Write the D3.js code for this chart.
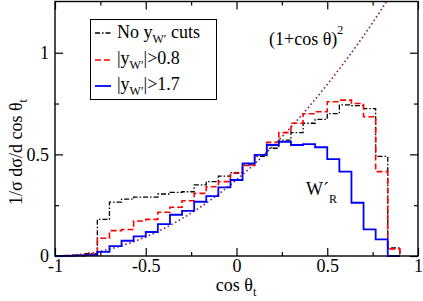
<!DOCTYPE html>
<html>
<head>
<meta charset="utf-8">
<script src="https://cdn.jsdelivr.net/npm/d3@7"></script>
<style>
  body { margin: 0; background: #fff; }
  text, tspan { font-family: 'Liberation Serif', 'Times New Roman', Times, 'DejaVu Serif', serif !important; }
</style>
</head>
<body>
<div id="chart"></div>
<script>
// lower edges of the cos(theta_t) bins (width 1/15)
const binEdges = [-0.9667, -0.9, -0.8333, -0.7667, -0.7, -0.6333, -0.5667, -0.5, -0.4333, -0.3667,
                  -0.3, -0.2333, -0.1667, -0.1, -0.0333, 0.0333, 0.1, 0.1667, 0.2333, 0.3,
                  0.3667, 0.4333, 0.5, 0.5667, 0.6333, 0.7, 0.7667, 0.8333];
const binWidth = 1 / 15;

const noCut  = [0.002, 0.004, 0.012, 0.18, 0.265, 0.28, 0.29, 0.29, 0.305, 0.313,
                0.316, 0.35, 0.366, 0.393, 0.41, 0.448, 0.49, 0.53, 0.57, 0.607,
                0.653, 0.672, 0.70, 0.743, 0.74, 0.725, 0.49, 0.04];
const cut08  = [0.002, 0.003, 0.008, 0.087, 0.125, 0.13, 0.172, 0.18, 0.215, 0.24,
                0.272, 0.308, 0.341, 0.366, 0.407, 0.445, 0.497, 0.559, 0.607, 0.653,
                0.70, 0.71, 0.759, 0.767, 0.75, 0.685, 0.415, 0.035];
const cut17  = [0.001, 0.002, 0.004, 0.02, 0.049, 0.075, 0.097, 0.118, 0.157, 0.203,
                0.222, 0.267, 0.295, 0.338, 0.374, 0.456, 0.497, 0.546, 0.562, 0.546,
                0.55, 0.535, 0.477, 0.415, 0.262, 0.131, 0.082, 0];

// (1+cos theta)^2 reference curve
const curveX = [-1, -0.9, -0.8, -0.7, -0.6, -0.5, -0.4, -0.3, -0.2, -0.1, 0,
                0.1, 0.2, 0.3, 0.4, 0.5, 0.6, 0.7, 0.8, 0.83];
const curveY = [0, 0.004, 0.015, 0.034, 0.06, 0.094, 0.135, 0.184, 0.24, 0.304, 0.375,
                0.454, 0.54, 0.634, 0.735, 0.844, 0.96, 1.083, 1.215, 1.256];

const xMajor = [-1, -0.5, 0, 0.5, 1],
      xMinor = [-0.75, -0.25, 0.25, 0.75],
      yMajor = [0, 0.5, 1],
      yMinor = [0.25, 0.75];

const W = 423, H = 301,
      plot = {left: 55, right: 418, top: 1.5, bottom: 256};

const svg = d3.select('#chart').append('svg')
  .attr('width', W)
  .attr('height', H);

const x = d3.scaleLinear().domain([-1, 1]).range([plot.left, plot.right]);
const y = d3.scaleLinear().domain([0, 1.252]).range([plot.bottom, plot.top]);

svg.append('clipPath').attr('id', 'clip')
  .append('rect')
  .attr('x', plot.left).attr('y', plot.top)
  .attr('width', plot.right - plot.left).attr('height', plot.bottom - plot.top);

// axes, ticks pointing inward on all four sides
function styleAxis(g) {
  g.attr('font-family', 'Liberation Serif').attr('font-size', 18);
  g.select('.domain').remove();
  g.selectAll('.tick line').attr('stroke', '#000').attr('stroke-width', 1.2);
  g.selectAll('.tick text').attr('fill', '#000');
}

const fmt = d => String(d);

svg.append('g')
  .attr('transform', `translate(0,${plot.bottom})`)
  .call(d3.axisBottom(x).tickValues(xMajor).tickSize(-8).tickPadding(3.5).tickFormat(fmt))
  .call(styleAxis);
svg.append('g')
  .attr('transform', `translate(0,${plot.bottom})`)
  .call(d3.axisBottom(x).tickValues(xMinor).tickSize(-4).tickFormat(''))
  .call(styleAxis);
svg.append('g')
  .attr('transform', `translate(0,${plot.top})`)
  .call(d3.axisTop(x).tickValues(xMajor).tickSize(-8).tickFormat(''))
  .call(styleAxis);
svg.append('g')
  .attr('transform', `translate(0,${plot.top})`)
  .call(d3.axisTop(x).tickValues(xMinor).tickSize(-4).tickFormat(''))
  .call(styleAxis);

svg.append('g')
  .attr('transform', `translate(${plot.left},0)`)
  .call(d3.axisLeft(y).tickValues(yMajor).tickSize(-8).tickPadding(6).tickFormat(fmt))
  .call(styleAxis);
svg.append('g')
  .attr('transform', `translate(${plot.left},0)`)
  .call(d3.axisLeft(y).tickValues(yMinor).tickSize(-4).tickFormat(''))
  .call(styleAxis);
svg.append('g')
  .attr('transform', `translate(${plot.right},0)`)
  .call(d3.axisRight(y).tickValues(yMajor).tickSize(-8).tickFormat(''))
  .call(styleAxis);
svg.append('g')
  .attr('transform', `translate(${plot.right},0)`)
  .call(d3.axisRight(y).tickValues(yMinor).tickSize(-4).tickFormat(''))
  .call(styleAxis);

// reference curve
const smooth = d3.line()
  .x((d, i) => x(curveX[i]))
  .y(d => y(d))
  .curve(d3.curveMonotoneX);

svg.append('path')
  .attr('clip-path', 'url(#clip)')
  .attr('d', smooth(curveY))
  .attr('fill', 'none')
  .attr('stroke', '#7d1e6e')
  .attr('stroke-width', 1.6)
  .attr('stroke-dasharray', '1.6,2.6');

// histograms as step lines
function stepPoints(vals) {
  const pts = [[-1, 0]];
  vals.forEach((v, i) => pts.push([binEdges[i], v]));
  const last = binEdges[binEdges.length - 1] + binWidth;
  pts.push([last, vals[vals.length - 1]]);
  pts.push([last, 0]);
  return pts;
}

const step = d3.line()
  .x(d => x(d[0]))
  .y(d => y(d[1]))
  .curve(d3.curveStepAfter);

const series = [
  {vals: noCut, color: '#000', width: 1.3, dash: '5,2,1.5,2'},
  {vals: cut08, color: '#ff0000', width: 1.6, dash: '6,3'},
  {vals: cut17, color: '#0000ff', width: 1.8, dash: null}
];

series.forEach(s => {
  svg.append('path')
    .attr('d', step(stepPoints(s.vals)))
    .attr('fill', 'none')
    .attr('stroke', s.color)
    .attr('stroke-width', s.width)
    .attr('stroke-dasharray', s.dash);
});

// frame
svg.append('rect')
  .attr('x', plot.left).attr('y', plot.top)
  .attr('width', plot.right - plot.left).attr('height', plot.bottom - plot.top)
  .attr('fill', 'none')
  .attr('stroke', '#000')
  .attr('stroke-width', 1.4);

// legend
const legend = svg.append('g');
legend.append('rect')
  .attr('x', 90.5).attr('y', 19.5)
  .attr('width', 126).attr('height', 80)
  .attr('fill', '#fff')
  .attr('stroke', '#000')
  .attr('stroke-width', 1);

const legendRows = [
  {pre: 'No y', post: ' cuts', s: series[0], ly: 33, ty: 38},
  {pre: '|y', post: '|>0.8', s: series[1], ly: 60, ty: 64},
  {pre: '|y', post: '|>1.7', s: series[2], ly: 86, ty: 90}
];

legendRows.forEach(r => {
  legend.append('line')
    .attr('x1', 95).attr('x2', 111)
    .attr('y1', r.ly).attr('y2', r.ly)
    .attr('stroke', r.s.color)
    .attr('stroke-width', r.s.width)
    .attr('stroke-dasharray', r.s.dash);
  const t = legend.append('text')
    .attr('x', 117).attr('y', r.ty)
    .attr('font-size', 18);
  t.append('tspan').text(r.pre);
  t.append('tspan').attr('dy', 5).attr('font-size', 12).text('W\u2032');
  t.append('tspan').attr('dy', -5).text(r.post);
});

// annotations
const ann = svg.append('text')
  .attr('x', 269).attr('y', 45)
  .attr('font-size', 18);
ann.append('tspan').text('(1+cos \u03b8)');
ann.append('tspan').attr('dy', -11).attr('font-size', 12).text('2');

const wr = svg.append('text')
  .attr('x', 306).attr('y', 195)
  .attr('font-size', 18);
wr.append('tspan').text('W\u00b4');
wr.append('tspan').attr('dy', 8).attr('font-size', 12).text('R');

// axis titles
const xt = svg.append('text')
  .attr('x', 236).attr('y', 291)
  .attr('text-anchor', 'middle')
  .attr('font-size', 18);
xt.append('tspan').text('cos \u03b8');
xt.append('tspan').attr('dy', 5).attr('font-size', 12).text('t');

const yt = svg.append('text')
  .attr('transform', 'translate(22,152) rotate(-90)')
  .attr('text-anchor', 'middle')
  .attr('font-size', 18);
yt.append('tspan').text('1/\u03c3 d\u03c3/d cos \u03b8');
yt.append('tspan').attr('dy', 5).attr('font-size', 12).text('t');
</script>
</body>
</html>
